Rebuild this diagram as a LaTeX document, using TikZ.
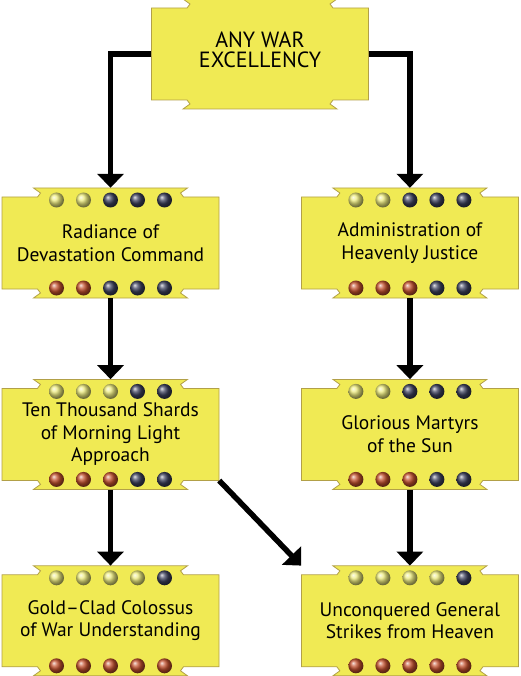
\documentclass[tikz,border=0pt]{standalone}
\usepackage{fontspec}
\setmainfont{PT Sans}
\usepackage{tikz}
\usetikzlibrary{positioning,arrows.meta,calc,backgrounds}
\usepackage{xcolor}

\definecolor{skillfill}{RGB}{240,234,84}
\definecolor{skilledge}{RGB}{178,160,72}
\definecolor{litdot}{RGB}{236,234,125}
\definecolor{darkdot}{RGB}{60,64,92}
\definecolor{reddot}{RGB}{195,80,45}

\tikzset{
	skill/.style={
		align=center,
		inner sep=0pt,
		minimum width=217pt,
		minimum height=110pt,
		font=\fontsize{19.5}{22.5}\selectfont
	},
	bannerbox/.style={fill=skillfill,draw=skilledge,line width=0.8pt},
	link/.style={-{Triangle[width=26pt,length=14pt]},line width=5.5pt}
}

\newcommand{\banner}[1]{%
	\begin{scope}[shift={(#1)}]
		\path[bannerbox] (-108.5,-46) -- (-73,-46) -- (-70,-50) -- (-77,-55)
		-- (77,-55) -- (70,-50) -- (73,-46) -- (108.5,-46)
		-- (108.5,46) -- (73,46) -- (70,50) -- (77,55)
		-- (-77,55) -- (-70,50) -- (-73,46) -- (-108.5,46) -- cycle;
	\end{scope}}

\newcommand{\dotrow}[3]{%
	\foreach \c [count=\i] in {#3}
		\shade[ball color=\c] ($(#1)+({(\i-3)*27},#2)$) circle (7.5pt);}

\begin{document}
\begin{tikzpicture}[x=1pt,y=-1pt]
	
	\useasboundingbox (0,0) rectangle (521,676);
	
	\node[skill,font=\fontsize{22}{20}\selectfont] (any) at (260,54)
	{ANY WAR\\EXCELLENCY\\[-12pt]};
	
	\node[skill] (rad) at (110.5,243)
	{Radiance of\\Devastation Command};
	
	\node[skill,right=82pt of rad] (adm)
	{Administration of\\Heavenly Justice};
	
	\node[skill,below=81pt of rad] (shards)
	{Ten Thousand Shards\\of Morning Light\\Approach};
	
	\node[skill,right=82pt of shards] (glor)
	{Glorious Martyrs\\of the Sun};
	
	\node[skill,below=76pt of shards] (gold)
	{Gold--Clad Colossus\\of War Understanding};
	
	\node[skill,right=82pt of gold] (unc)
	{Unconquered General\\Strikes from Heaven};
	
	\begin{pgfonlayer}{background}
		\foreach \n in {any,rad,adm,shards,glor,gold,unc}
			\banner{\n};
	\end{pgfonlayer}
	
	\dotrow{rad}{-43}{litdot,litdot,darkdot,darkdot,darkdot}
	\dotrow{rad}{45}{reddot,reddot,darkdot,darkdot,darkdot}
	\dotrow{adm}{-43}{litdot,litdot,darkdot,darkdot,darkdot}
	\dotrow{adm}{45}{reddot,reddot,reddot,darkdot,darkdot}
	\dotrow{shards}{-43}{litdot,litdot,litdot,darkdot,darkdot}
	\dotrow{shards}{45}{reddot,reddot,reddot,darkdot,darkdot}
	\dotrow{glor}{-43}{litdot,litdot,darkdot,darkdot,darkdot}
	\dotrow{glor}{45}{reddot,reddot,reddot,darkdot,darkdot}
	\dotrow{gold}{-43}{litdot,litdot,litdot,litdot,darkdot}
	\dotrow{gold}{45}{reddot,reddot,reddot,reddot,reddot}
	\dotrow{unc}{-43}{litdot,litdot,litdot,litdot,darkdot}
	\dotrow{unc}{45}{reddot,reddot,reddot,reddot,reddot}
	
	\draw[link] (any.west) -| (rad.north);
	\draw[link] (any.east) -| (adm.north);
	\draw[link] (rad.south) -- (shards.north);
	\draw[link] (adm.south) -- (glor.north);
	\draw[link] (shards.south) -- (gold.north);
	\draw[link] (glor.south) -- (unc.north);
	\draw[link] (shards.-23) -- (unc.north west);
	
\end{tikzpicture}
\end{document}
